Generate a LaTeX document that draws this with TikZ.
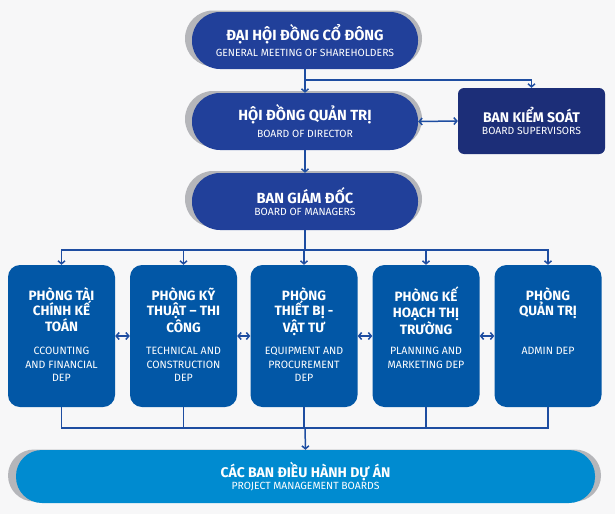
\documentclass[tikz,border=0pt]{standalone}
\usepackage{fontspec}
\setmainfont{Fira Sans}
\newfontfamily\engfont{Fira Sans}
\usetikzlibrary{arrows.meta}
\definecolor{bg}{HTML}{F7F7F8}
\definecolor{pillblue}{HTML}{21409A}
\definecolor{bksblue}{HTML}{1C2E78}
\definecolor{depblue}{HTML}{0257A6}
\definecolor{pmblue}{HTML}{008BD0}
\definecolor{shadowgray}{HTML}{B5B6BA}
\definecolor{lineblue}{HTML}{1E4DA1}
\tikzset{
  pill/.style={fill=pillblue, rounded corners=28pt, minimum width=226pt, minimum height=57pt, inner sep=0pt, text=white, align=center},
  pillshadow/.style={fill=shadowgray, rounded corners=28pt, minimum width=237pt, minimum height=56pt, inner sep=0pt},
  depbox/.style={fill=depblue, rounded corners=12pt, minimum width=107pt, minimum height=142pt, inner sep=0pt},
  deptitle/.style={text=white, align=center, inner sep=0pt, anchor=north, font=\bfseries\fontsize{13.5}{15.5}\selectfont},
  depsub/.style={text=white, align=center, inner sep=0pt, anchor=north, font=\engfont\fontsize{10.6}{13.5}\selectfont}
}
\tikzset{
  conn/.style={draw=lineblue, line width=1.5pt},
  tip/.style={-{Straight Barb[length=3pt,width=7pt]}},
  dtip/.style={{Straight Barb[length=3pt,width=7pt]}-{Straight Barb[length=3pt,width=7pt]}}
}
\newcommand{\ttlfont}{\bfseries\fontsize{14.7}{17}\selectfont}
\newcommand{\subfont}{\engfont\fontsize{10.4}{12}\selectfont}
\begin{document}
\begin{tikzpicture}[x=1pt,y=-1pt]
\fill[bg] (0,0) rectangle (615,514);
\useasboundingbox (0,0) rectangle (615,514);
% shadows
\node[pillshadow] (gmsS) at (303.5,38.5) {};
\node[pillshadow] (hdqtS) at (303.5,119) {};
\node[pillshadow] (bgdS) at (303.5,199) {};
\node[fill=shadowgray, rounded corners=26pt, minimum width=593pt, minimum height=52pt, inner sep=0pt] (pmS) at (304.5,475.5) {};
% pills
\node[pill] (gms) at (305,40.5) {{\ttlfont ĐẠI HỘI ĐỒNG CỔ ĐÔNG}\\[4.5pt]{\subfont GENERAL MEETING OF SHAREHOLDERS}};
\node[pill] (hdqt) at (305,121.5) {{\ttlfont HỘI ĐỒNG QUẢN TRỊ}\\[5pt]{\subfont BOARD OF DIRECTOR}};
\node[fill=bksblue, rounded corners=6pt, minimum width=147pt, minimum height=66pt, inner sep=0pt, text=white, align=center] (bks) at (531.5,121) {{\bfseries\fontsize{14}{15}\selectfont BAN KIỂM SOÁT}\\[0.5pt]{\subfont BOARD SUPERVISORS}};
\node[pill] (bgd) at (305,201.5) {{\ttlfont BAN GIÁM ĐỐC}\\[0pt]{\subfont BOARD OF MANAGERS}};
\node[fill=pmblue, rounded corners=26pt, minimum width=579pt, minimum height=53pt, inner sep=0pt, text=white, align=center] (pm) at (305.5,476.5) {{\bfseries\fontsize{14}{15}\selectfont CÁC BAN ĐIỀU HÀNH DỰ ÁN}\\[0pt]{\subfont PROJECT MANAGEMENT BOARDS}};
% departments
\node[depbox] (dep1) at (61.5,336) {};
\node[depbox] (dep2) at (183.5,336) {};
\node[depbox] (dep3) at (304,336) {};
\node[depbox] (dep4) at (426,336) {};
\node[depbox] (dep5) at (548,336) {};
\node[deptitle] (t1) at (61.5,287) {PHÒNG TÀI\\CHÍNH KẾ\\TOÁN};
\node[deptitle] (t2) at (183.5,287) {PHÒNG KỸ\\THUẬT – THI\\CÔNG};
\node[deptitle] (t3) at (304,287) {PHÒNG\\THIẾT BỊ -\\VẬT TƯ};
\node[deptitle] (t4) at (426,287) {PHÒNG KẾ\\HOẠCH THỊ\\TRƯỜNG};
\node[deptitle] (t5) at (548,287) {PHÒNG\\QUẢN TRỊ};
\node[depsub] (s1) at (61.5,347) {CCOUNTING\\AND FINANCIAL\\DEP};
\node[depsub] (s2) at (183.5,347) {TECHNICAL AND\\CONSTRUCTION\\DEP};
\node[depsub] (s3) at (304,347) {EQUIPMENT AND\\PROCUREMENT\\DEP};
\node[depsub] (s4) at (426,347) {PLANNING AND\\MARKETING DEP};
\node[depsub] (s5) at (548,347) {ADMIN DEP};
% connectors
\coordinate (j1) at (305,80);
\coordinate (j2) at (305,250);
\coordinate (j3) at (305,428);
\draw[conn,tip] (gms.south) -- (hdqt.north);
\draw[conn,tip] (j1) -| (bks.north);
\draw[conn,dtip] (hdqt.east) -- (bks.west);
\draw[conn,tip] (hdqt.south) -- (bgd.north);
\draw[conn] (bgd.south) -- (j2);
\foreach \i in {1,...,5} {
  \draw[conn,tip] (j2) -| (dep\i.north);
  \draw[conn] (dep\i.south) |- (j3);
}
\draw[conn,tip] (j3) -- (pm.north);
\draw[conn,dtip] (dep1.east) -- (dep2.west);
\draw[conn,dtip] (dep2.east) -- (dep3.west);
\draw[conn,dtip] (dep3.east) -- (dep4.west);
\draw[conn,dtip] (dep4.east) -- (dep5.west);
\end{tikzpicture}
\end{document}
